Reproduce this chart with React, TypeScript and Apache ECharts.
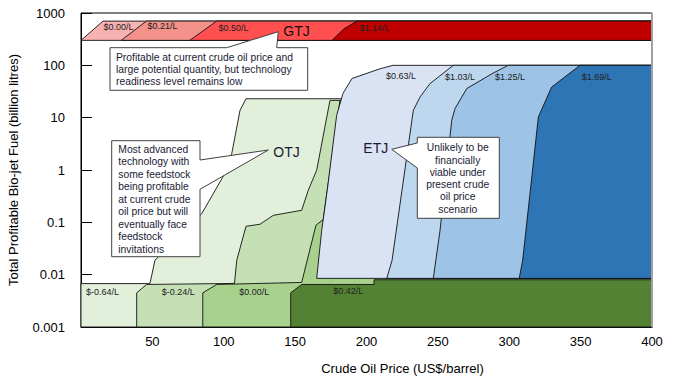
import React, { useEffect, useRef } from "react";
import * as echarts from "echarts";

// ---------- data (x: crude oil price US$/barrel, y: billion litres) ----------
const X_TICKS_MIN = 0;
const X_TICKS_MAX = 400;
const X_INTERVAL = 50;
const Y_MIN = 0.001;
const Y_MAX = 1000;

// GTJ: bands between 300 and 700 billion litres, left edges per price scenario
const GTJ_PRICES = ["$0.00/L", "$0.21/L", "$0.50/L", "$1.14/L"];
const GTJ_LOW = 300;
const GTJ_HIGH = 700;
const GTJ_EDGE_000 = [[0, 300], [15.4, 700]];
const GTJ_EDGE_021 = [[28.2, 300], [45.8, 700]];
const GTJ_EDGE_050 = [[76.3, 300], [95.0, 700]];
const GTJ_EDGE_114 = [[175.8, 300], [184.2, 500], [193.3, 700]];

// ETJ: bands between 0.0085 and 100 billion litres
const ETJ_PRICES = ["$0.63/L", "$1.03/L", "$1.25/L", "$1.69/L"];
const ETJ_LOW = 0.0085;
const ETJ_HIGH = 100;
const ETJ_EDGE_063 = [[165.1, 0.0085], [168.6, 0.07], [172.5, 0.41], [179.1, 11.1], [183.5, 29], [189.8, 56], [209.5, 86], [218.6, 100]];
const ETJ_EDGE_103 = [[214.2, 0.0085], [217.9, 0.0188], [232.8, 13.8], [237.5, 24.8], [244.5, 44.8], [260.8, 100]];
const ETJ_EDGE_125 = [[246.8, 0.0085], [251.5, 0.07], [259.7, 8.9], [262.0, 14.9], [270.2, 35.9], [288.8, 71.4], [299.3, 100]];
const ETJ_EDGE_169 = [[307.0, 0.0085], [309.4, 0.0188], [320.4, 10.3], [329.7, 38.5], [349.6, 100]];

// OTJ: supply curves (profitable fuel vs crude price)
const OTJ_PRICES = ["$-0.64/L", "$-0.24/L", "$0.00/L", "$0.42/L"];
const OTJ_CURVE_N064 = [[0, 0.00675], [48.3, 0.00675], [51.8, 0.0188], [84.6, 0.147], [99.3, 0.73], [105.6, 2.06], [111.4, 13.8], [115.6, 23], [400, 23]];
const OTJ_CURVE_N024 = [[39.0, 0.0045], [46.0, 0.0065], [107.5, 0.0068], [109.1, 0.0188], [115.6, 0.084], [125.4, 0.092], [134.7, 0.136], [154.6, 0.17], [159.2, 0.41], [165.1, 0.99], [174.4, 21.4], [400, 21.4]];
const OTJ_CURVE_000 = [[85.3, 0.0045], [95.1, 0.0065], [154.6, 0.0071], [164.6, 0.088], [169.7, 0.113], [172.5, 0.41], [181.4, 21.4], [400, 21.4]];
const OTJ_CURVE_042 = [[146.9, 0.0045], [154.6, 0.0065], [205.3, 0.0065], [205.3, 0.008], [400, 0.008]];

// ---------- styles ----------
const FONT = "'Liberation Sans', Arial, sans-serif";
const GTJ_COLORS = ["#f7b1b1", "#f3918b", "#ff4f4f", "#c00000"];
const ETJ_COLORS = ["#dae3f3", "#bdd7ee", "#9dc3e6", "#2e75b6"];
const OTJ_COLORS = ["#e2efda", "#c5e0b4", "#a9d18e", "#548235"];

function bandPolygon(edge: number[][], low: number, high: number) {
  return [...edge, [X_TICKS_MAX, high], [X_TICKS_MAX, low]];
}
function curvePolygon(curve: number[][]) {
  return [[curve[0][0], Y_MIN], ...curve, [X_TICKS_MAX, Y_MIN]];
}

function polySeries(name: string, points: number[][], fill: string) {
  return {
    type: "custom",
    name,
    silent: true,
    coordinateSystem: "cartesian2d",
    data: points,
    encode: { x: 0, y: 1 },
    renderItem: (params: any, api: any) => {
      if (params.dataIndex !== 0) return null;
      return {
        type: "polygon",
        shape: { points: points.map((p) => api.coord(p)) },
        style: { fill, stroke: "#111", lineWidth: 0.9 },
      };
    },
  };
}

function txt(text: string, x: number, y: number, size: number, align = "left", color = "#222", rotation = 0) {
  return {
    type: "text",
    x,
    y,
    z: 110,
    rotation,
    silent: true,
    style: {
      text,
      fill: color,
      fontSize: size,
      fontFamily: FONT,
      textAlign: align,
      textVerticalAlign: "middle",
      align,
      verticalAlign: "middle",
    },
  };
}

export default function App() {
  const ref = useRef<HTMLDivElement>(null);
  useEffect(() => {
    document.body.style.margin = "0";
    if (!ref.current) return;
    const chart = echarts.init(ref.current, null, { renderer: "svg" });

    const series: any[] = [];
    [GTJ_EDGE_000, GTJ_EDGE_021, GTJ_EDGE_050, GTJ_EDGE_114].forEach((e, i) =>
      series.push(polySeries("GTJ " + GTJ_PRICES[i], bandPolygon(e, GTJ_LOW, GTJ_HIGH), GTJ_COLORS[i]))
    );
    [OTJ_CURVE_N064, OTJ_CURVE_N024, OTJ_CURVE_000].forEach((c, i) =>
      series.push(polySeries("OTJ " + OTJ_PRICES[i], curvePolygon(c), OTJ_COLORS[i]))
    );
    [ETJ_EDGE_063, ETJ_EDGE_103, ETJ_EDGE_125, ETJ_EDGE_169].forEach((e, i) =>
      series.push(polySeries("ETJ " + ETJ_PRICES[i], bandPolygon(e, ETJ_LOW, ETJ_HIGH), ETJ_COLORS[i]))
    );
    series.push(polySeries("OTJ " + OTJ_PRICES[3], curvePolygon(OTJ_CURVE_042), OTJ_COLORS[3]));

    const calloutStyle = { fill: "#fff", stroke: "#404040", lineWidth: 1 };
    const calloutText = "#1a1a33";
    const graphic: any[] = [
      // right border
      { type: "line", z: 100, silent: true, shape: { x1: 652, y1: 13, x2: 652, y2: 327 }, style: { stroke: "#a0a0a0", lineWidth: 2 } },
      // GTJ callout
      {
        type: "polygon",
        z: 100,
        silent: true,
        shape: { points: [[110, 47.7], [226.7, 47.7], [278.3, 31.7], [276.7, 47.7], [307.7, 47.7], [307.7, 90.3], [110, 90.3]] },
        style: calloutStyle,
      },
      // OTJ callout
      {
        type: "polygon",
        z: 100,
        silent: true,
        shape: { points: [[111.7, 140.7], [200, 140.7], [200, 160], [268.3, 150], [200, 189.3], [200, 256.7], [111.7, 256.7]] },
        style: calloutStyle,
      },
      // ETJ callout
      {
        type: "polygon",
        z: 100,
        silent: true,
        shape: { points: [[417.3, 137.3], [499.3, 137.3], [499.3, 218.3], [417.3, 218.3], [417.3, 168], [391.7, 149.3], [417.3, 143]] },
        style: calloutStyle,
      },
      // region price labels
      txt(GTJ_PRICES[0], 103.5, 26.5, 9),
      txt(GTJ_PRICES[1], 147.5, 25.7, 9),
      txt(GTJ_PRICES[2], 218.5, 27.7, 9),
      txt(GTJ_PRICES[3], 359.5, 27.7, 9),
      txt(ETJ_PRICES[0], 386, 76, 9),
      txt(ETJ_PRICES[1], 445, 76.7, 9),
      txt(ETJ_PRICES[2], 495, 77, 9),
      txt(ETJ_PRICES[3], 581.7, 77, 9),
      txt(OTJ_PRICES[0], 86, 291.7, 9),
      txt(OTJ_PRICES[1], 161.7, 291.7, 9),
      txt(OTJ_PRICES[2], 239.3, 292, 9),
      txt(OTJ_PRICES[3], 333.3, 291, 9),
      // technology labels
      txt("GTJ", 283.3, 30.7, 14, "left", "#111"),
      txt("OTJ", 273.3, 151.7, 14, "left", "#1a1a33"),
      txt("ETJ", 363.3, 148.3, 14, "left", "#1a1a33"),
      // callout texts
      txt("Profitable at current crude oil price and", 116, 57, 10.3, "left", calloutText),
      txt("large potential quantity, but technology", 116, 69.3, 10.3, "left", calloutText),
      txt("readiness level remains low", 116, 81.5, 10.3, "left", calloutText),
      ...[
        "Most advanced",
        "technology with",
        "some feedstock",
        "being profitable",
        "at current crude",
        "oil price but will",
        "eventually face",
        "feedstock",
        "invitations",
      ].map((s, i) => txt(s, 118.3, 149.3 + i * 12.5, 10.3, "left", calloutText)),
      ...["Unlikely to be", "financially", "viable under", "present crude", "oil price", "scenario"].map((s, i) =>
        txt(s, 457.7, 147.7 + i * 12.3, 10.3, "center", calloutText)
      ),
      // axis titles
      txt("Crude Oil Price (US$/barrel)", 402.5, 368.3, 13, "center", "#000"),
      txt("Total Profitable Bio-jet Fuel (billion litres)", 13, 170, 13, "center", "#000", Math.PI / 2),
    ];

    chart.setOption({
      animation: false,
      backgroundColor: "#fff",
      textStyle: { fontFamily: FONT },
      grid: { left: 81, right: 21, top: 13, bottom: 53, show: true, borderColor: "#000", borderWidth: 1, backgroundColor: "transparent" },
      xAxis: {
        type: "value",
        min: X_TICKS_MIN,
        max: X_TICKS_MAX,
        interval: X_INTERVAL,
        axisLine: { show: true, lineStyle: { color: "#000", width: 1 } },
        axisTick: { show: true, inside: true, length: 9, lineStyle: { color: "#000" } },
        axisLabel: {
          color: "#000",
          fontSize: 13,
          fontFamily: FONT,
          margin: 8,
          formatter: (v: number) => (v === 0 ? "" : String(v)),
        },
        splitLine: { show: false },
      },
      yAxis: {
        type: "log",
        logBase: 10,
        min: Y_MIN,
        max: Y_MAX,
        splitNumber: 6,
        axisLine: { show: true, lineStyle: { color: "#000", width: 1 } },
        axisTick: { show: true, inside: true, length: 11, lineStyle: { color: "#000" } },
        minorTick: { show: false },
        axisLabel: {
          color: "#000",
          fontSize: 13,
          fontFamily: FONT,
          margin: 16,
          formatter: (v: number) => {
            const n = Math.round(Math.log10(v));
            return n >= 0 ? String(Math.pow(10, n)) : Math.pow(10, n).toFixed(-n);
          },
        },
        splitLine: { show: false },
      },
      series,
      graphic,
    });
    return () => chart.dispose();
  }, []);
  return <div ref={ref} style={{ width: 673, height: 380 }} />;
}
